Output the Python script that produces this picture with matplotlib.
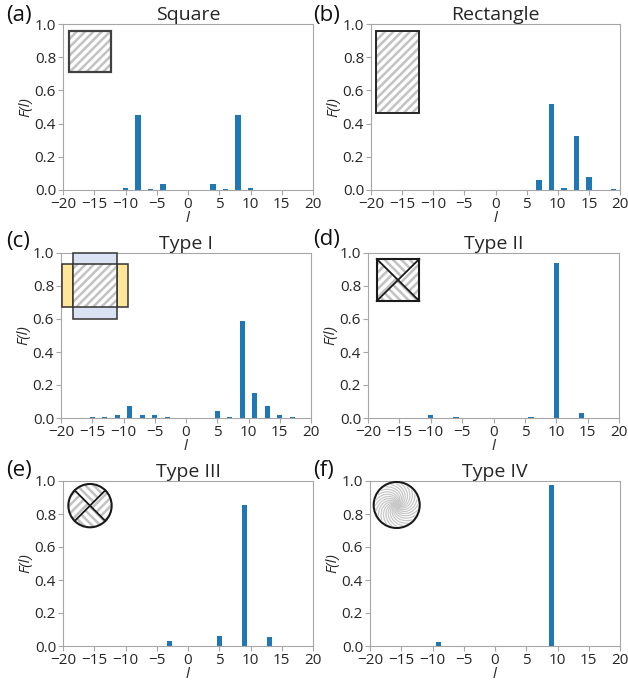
import numpy as np
import matplotlib
matplotlib.use("Agg")
import matplotlib.pyplot as plt
from matplotlib.patches import Rectangle, Polygon, Circle, Wedge

plt.rcParams['font.family'] = ['Open Sans', 'DejaVu Sans']
plt.rcParams['hatch.linewidth'] = 1.8
plt.rcParams['axes.unicode_minus'] = True

W, H = 628, 683
DPI = 100

# ---------------- data ----------------
titles = ["Square", "Rectangle", "Type I", "Type II", "Type III", "Type IV"]
letters = ["(a)", "(b)", "(c)", "(d)", "(e)", "(f)"]

square_l = [-18, -14, -10, -8, -6, -4, -2, 2, 4, 6, 8, 10, 14, 18]
square_F = [0.003, 0.003, 0.014, 0.45, 0.008, 0.034, 0.003, 0.003, 0.034, 0.008, 0.45, 0.014, 0.003, 0.003]

rect_l = [-19, -15, -13, -11, 5, 7, 9, 11, 13, 15, 17, 19]
rect_F = [0.003, 0.003, 0.003, 0.003, 0.003, 0.06, 0.52, 0.01, 0.324, 0.076, 0.003, 0.008]

type1_l = [-19, -15, -13, -11, -9, -7, -5, -3, 5, 7, 9, 11, 13, 15, 17, 19]
type1_F = [0.003, 0.004, 0.007, 0.018, 0.07, 0.018, 0.018, 0.005, 0.042, 0.005, 0.585, 0.153, 0.074, 0.018, 0.005, 0.003]

type2_l = [-14, -10, -6, 6, 10, 14]
type2_F = [0.003, 0.016, 0.008, 0.008, 0.94, 0.031]

type3_l = [-11, -7, -3, 1, 5, 9, 13]
type3_F = [0.003, 0.003, 0.033, 0.003, 0.062, 0.855, 0.054]

type4_l = [-9, 9]
type4_F = [0.026, 0.978]

series = [(square_l, square_F), (rect_l, rect_F), (type1_l, type1_F),
          (type2_l, type2_F), (type3_l, type3_F), (type4_l, type4_F)]

xticks = [-20, -15, -10, -5, 0, 5, 10, 15, 20]
yticks = [0.0, 0.2, 0.4, 0.6, 0.8, 1.0]

# axes boxes in pixels: (left, top, right, bottom)
boxes = [(63, 24, 313, 190), (371, 24, 620, 190),
         (61, 253, 311, 418), (368, 253, 619, 418),
         (63, 481, 313, 646), (370, 481, 620, 646)]
label_pos = [(6, 21), (313, 21), (6, 247), (313, 245), (6, 476), (313, 476)]

fig = plt.figure(figsize=(W / DPI, H / DPI), dpi=DPI)

def px_axes(x0, y0, x1, y1, **kw):
    return fig.add_axes([x0 / W, 1 - y1 / H, (x1 - x0) / W, (y1 - y0) / H], **kw)

spine_c = '#a6a6a6'
text_c = '#262626'
HC = '#c2c2c2'
HATCH_A = '////'
HATCH_B = '\\\\\\\\'

axes = []
for i, (box, (ls, Fs)) in enumerate(zip(boxes, series)):
    ax = px_axes(*box)
    ax.bar(ls, Fs, width=0.85, color='#1f77b4')
    ax.set_xlim(-20, 20)
    ax.set_ylim(0, 1.0)
    ax.set_xticks(xticks)
    ax.set_yticks(yticks)
    ax.set_yticklabels([f"{v:.1f}" for v in yticks])
    ax.tick_params(colors=spine_c, labelcolor=text_c, labelsize=11, length=3.5, pad=1.5)
    for s in ax.spines.values():
        s.set_color(spine_c)
    ax.set_title(titles[i], fontsize=14, color=text_c, pad=2)
    ax.set_xlabel("l", fontstyle='italic', fontsize=11, color=text_c, labelpad=-1)
    ax.set_ylabel("F(l)", fontstyle='italic', fontsize=11, color=text_c, labelpad=1)
    fig.text(label_pos[i][0] / W, 1 - label_pos[i][1] / H, letters[i], fontsize=16,
             color='#111111', ha='left', va='baseline')
    axes.append(ax)

def inset(x0, y0, x1, y1):
    a = px_axes(x0, y0, x1, y1)
    a.set_xlim(0, 1)
    a.set_ylim(0, 1)
    a.axis('off')
    return a

def hatched_rect(a, x, y, w, h, hatch=HATCH_A, lw=1.5, ec='#333333'):
    a.add_patch(Rectangle((x, y), w, h, facecolor='white', edgecolor=HC, lw=0, hatch=hatch, clip_on=False))
    a.add_patch(Rectangle((x, y), w, h, fill=False, edgecolor=ec, lw=lw, clip_on=False))

# (a) square
ia = inset(68.7, 30.7, 111.3, 72)
hatched_rect(ia, 0, 0, 1, 1, lw=1.6, ec='#404040')

# (b) rectangle
ib = inset(376, 30.7, 419, 113.3)
hatched_rect(ib, 0, 0, 1, 1, lw=1.4, ec='#262626')

# (c) type I
ic = inset(62.3, 253.3, 127.7, 319)
wpx, hpx = 127.7 - 62.3, 319 - 253.3
def fx(v): return (v - 62.3) / wpx
def fy(v): return 1 - (v - 253.3) / hpx
ic.add_patch(Rectangle((fx(73.3), fy(319)), fx(116.7) - fx(73.3), fy(253.3) - fy(319),
                       facecolor='#dae3f3', edgecolor='#333333', lw=1.1, clip_on=False))
for xa, xb in [(62.3, 73.3), (116.7, 127.7)]:
    ic.add_patch(Rectangle((fx(xa), fy(307.3)), fx(xb) - fx(xa), fy(264.3) - fy(307.3),
                           facecolor='#ffe699', edgecolor='#333333', lw=1.1, clip_on=False))
hatched_rect(ic, fx(73.3), fy(307.3), fx(116.7) - fx(73.3), fy(264.3) - fy(307.3), lw=1.1)

# (d) type II
idd = inset(376.7, 259, 419.3, 301)
c = (0.5, 0.5)
tris = {'top': [(0, 1), (1, 1), c], 'bottom': [(0, 0), (1, 0), c],
        'left': [(0, 0), (0, 1), c], 'right': [(1, 0), (1, 1), c]}
for k, pts in tris.items():
    h = HATCH_B if k in ('top', 'bottom') else HATCH_A
    idd.add_patch(Polygon(pts, closed=True, facecolor='white', edgecolor=HC, lw=0, hatch=h, clip_on=False))
idd.plot([0, 1], [0, 1], color='#1a1a1a', lw=1.3, clip_on=False)
idd.plot([0, 1], [1, 0], color='#1a1a1a', lw=1.3, clip_on=False)
idd.add_patch(Rectangle((0, 0), 1, 1, fill=False, edgecolor='#1a1a1a', lw=1.5, clip_on=False))

# (e) type III
ie = inset(68.3, 484, 111.7, 527.3)
ie.set_aspect('equal')
for j, (t1, t2) in enumerate([(45, 135), (135, 225), (225, 315), (315, 405)]):
    h = HATCH_B if j % 2 == 0 else HATCH_A
    ie.add_patch(Wedge((0.5, 0.5), 0.5, t1, t2, facecolor='white', edgecolor=HC, lw=0, hatch=h, clip_on=False))
for ang in (45, 135):
    r = np.deg2rad(ang)
    ie.plot([0.5 - 0.5 * np.cos(r), 0.5 + 0.5 * np.cos(r)],
            [0.5 - 0.5 * np.sin(r), 0.5 + 0.5 * np.sin(r)], color='#1a1a1a', lw=1.3, clip_on=False)
ie.add_patch(Circle((0.5, 0.5), 0.5, fill=False, edgecolor='#1a1a1a', lw=1.5, clip_on=False))

# (f) type IV
iff = inset(373.7, 482, 419.7, 528)
iff.set_aspect('equal')
rr = np.linspace(0, 0.46, 60)
for k in range(24):
    th0 = 2 * np.pi * k / 24
    th = th0 + 4.0 * rr
    iff.plot(0.5 + rr * np.cos(th), 0.5 + rr * np.sin(th), color='#c8c8c8', lw=0.9, clip_on=False)
iff.add_patch(Circle((0.5, 0.5), 0.05, color='#d4d4d4', lw=0, clip_on=False))
iff.add_patch(Circle((0.5, 0.5), 0.5, fill=False, edgecolor='#1a1a1a', lw=1.5, clip_on=False))

fig.savefig("out.png", dpi=DPI)
